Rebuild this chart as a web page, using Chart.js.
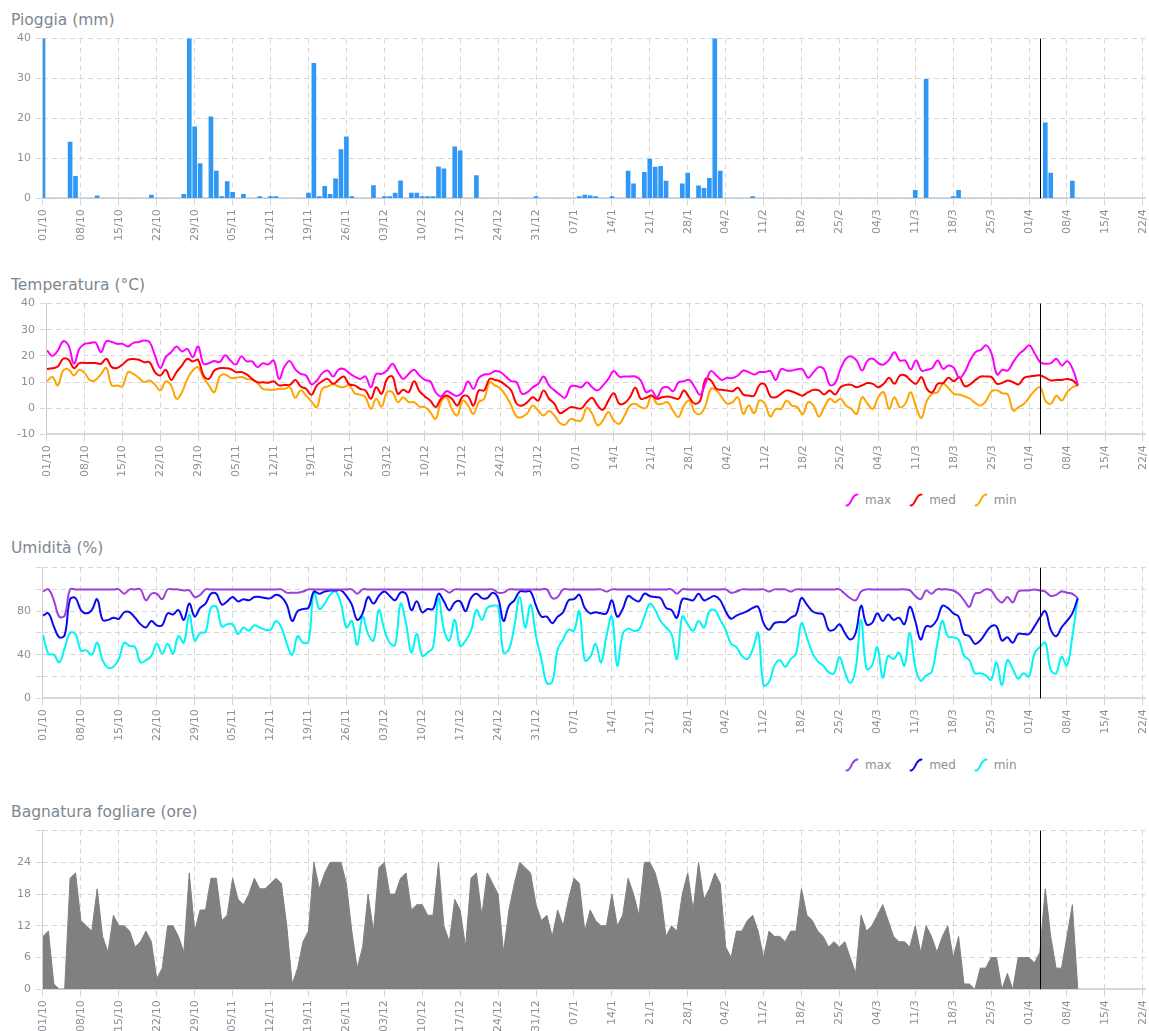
<!DOCTYPE html>
<html>
<head>
<meta charset="utf-8">
<script src="https://cdn.jsdelivr.net/npm/chart.js@4.4.1/dist/chart.umd.min.js"></script>
<style>
  body { margin: 0; width: 1149px; height: 1031px; overflow: hidden; background: #fff; position: relative; font-family: 'DejaVu Sans', Verdana, sans-serif; }
  .title { position: absolute; left: 11px; font-size: 15.5px; line-height: 18px; color: #7d8791; }
  .box { position: absolute; left: 0; width: 1160px; }
  .legend { position: absolute; left: 845px; height: 16px; display: flex; align-items: center; font-size: 12px; color: #8b9199; }
  .legend .item { display: flex; align-items: center; margin-right: 18px; }
  .legend svg { margin-right: 6px; }
</style>
</head>
<body>
<div class="title" style="top:11px">Pioggia (mm)</div>
<div class="box" style="top:27px;height:218px"><canvas id="chart-rain"></canvas></div>

<div class="title" style="top:276px">Temperatura (°C)</div>
<div class="box" style="top:292px;height:189px"><canvas id="chart-temp"></canvas></div>
<div class="legend" id="legend-temp" style="top:492px"></div>

<div class="title" style="top:539px">Umidità (%)</div>
<div class="box" style="top:556px;height:189px"><canvas id="chart-hum"></canvas></div>
<div class="legend" id="legend-hum" style="top:757px"></div>

<div class="title" style="top:803px">Bagnatura fogliare (ore)</div>
<div class="box" style="top:819px;height:217px"><canvas id="chart-leaf"></canvas></div>

<script>
// day 0 = 01/10, one value per day
const tickLabels = ['01/10','08/10','15/10','22/10','29/10','05/11','12/11','19/11','26/11','03/12','10/12','17/12','24/12','31/12','07/1','14/1','21/1','28/1','04/2','11/2','18/2','25/2','04/3','11/3','18/3','25/3','01/4','08/4','15/4','22/4'];
const seriesNames = ['max', 'med', 'min'];
const markerDay = 184;

const rain = [
  50,0,0,0,0,14.1,5.5,0,0,0,
  0.6,0,0,0,0,0,0,0,0,0,
  0.8,0,0,0,0,0,1.0,45,17.9,8.7,
  0,20.4,6.8,0.4,4.2,1.5,0,1.0,0,0,
  0.4,0,0.4,0.4,0,0,0,0,0,1.3,
  33.8,0.4,3.0,1.0,4.9,12.2,15.4,0.4,0,0,
  0,3.2,0,0.4,0.4,1.3,4.4,0,1.3,1.3,
  0.4,0.4,0.4,7.9,7.4,0,12.9,11.9,0,0,
  5.7,0,0,0,0,0,0,0,0,0,
  0,0.4,0,0,0,0,0,0,0,0.4,
  0.8,0.6,0.4,0,0,0.4,0,0,6.8,3.6,
  0,6.5,9.8,7.8,8.0,4.3,0,0,3.6,6.3,
  0,3.1,2.5,5.0,45,6.8,0,0,0,0,
  0,0.4,0,0,0,0,0,0,0,0,
  0,0,0,0,0,0,0,0,0,0,
  0,0,0,0,0,0,0,0,0,0,
  0,2.0,0,29.8,0,0,0,0,0.4,2.0,
  0,0,0,0,0,0,0,0,0,0,
  0,0,0,0,0,18.9,6.3,0,0,0,
  4.3,0
];

const tempMax = [
  22.1,20,22,25.6,24,17,22.7,24.6,24.9,25.1,
  21.4,25.6,25.3,24.6,24.6,23.6,25,25.3,25.9,25.3,
  20.2,15.4,19.5,21.4,23.6,21.7,22.7,19.5,23.6,17,
  17.2,18,17.6,20.2,18.2,16.7,19.8,17.9,17.9,15.7,
  17.2,16.7,18.2,11.2,15.9,18,14.8,13.1,12.5,9.1,
  10.6,13.4,14.4,12.1,14.7,15,13.4,12.1,11.2,12.1,
  8,13.1,13.1,14.4,17,13.8,11.2,13.1,14.7,12.5,
  10.8,10.3,6.1,4.5,6.5,5.5,4.7,6.1,10.2,7.4,
  11.6,12.9,13.1,14.2,13.8,12.1,10.3,9.9,5.5,6.1,
  8,9.3,12.1,8.7,6.8,5.2,4,8.3,8.5,8,
  9.9,8,6.8,8.7,11.2,14.2,12.1,12.1,12.1,12.1,
  10.6,6.1,6.8,4.2,7.7,8,6.5,9.9,10.3,10.8,
  8,5.1,9.6,14.2,12.5,10.8,11.6,11.5,12.5,14.4,
  13.8,12.9,13.8,13.8,14.2,10.8,15,14.4,14.4,14.9,
  14.8,11.6,13.8,15.7,14.7,8.9,9.6,15,18.9,19.8,
  18.2,14.4,18.2,18.9,17.2,16.7,18.5,21.4,18.2,18.2,
  14.8,18.2,14.4,14.7,15.4,18.2,15,16.3,15.4,11.6,
  13.8,18.2,21.4,22.3,24,20.8,12.9,14.7,14.4,17.6,
  20.5,22.3,24,20.8,17.6,17,17.2,18.9,16.3,18,
  15,8.7
];

const tempMed = [
  15,15.3,15.9,18.9,18.5,15.3,17.2,17.3,17.3,17.3,
  17,18.9,15.7,15.4,16.7,18.5,18.8,18.5,17.6,17.6,
  13.8,12.5,14.7,10.8,13.8,16.3,18.9,17.9,18.5,12.5,
  11.2,14.4,15.3,15.3,15,13.8,13.8,12.9,11.2,9.9,
  9.9,9.7,10.3,8.7,8.9,8.9,10.8,8.3,7.4,5.1,
  8.7,10.3,11.2,9.3,10.8,12.1,9.1,8.7,7.4,6.8,
  3.6,8,5.5,11.2,12.1,5.5,7,6.1,10.3,6.5,
  4.5,2.9,0.4,3.6,4.8,3.6,1,4.5,4.5,1,
  6.8,6.8,11.2,10.8,10.2,8.7,6.8,1.7,1,2.3,
  4.2,2.9,6.8,3.6,1.7,-1.9,-0.9,0.4,0.1,-0.1,
  2.3,4,1,-0.6,2.9,5.7,1.7,1.9,4.2,7.8,
  3.6,4,4.8,3.6,4.2,4.5,4,3.6,6.8,4,
  1.7,2.9,11.2,10.6,7.4,7,6.8,6.5,7.8,5.2,
  4.8,4.8,8.9,9.1,4.5,4.2,5.5,6.8,6.4,5.5,
  4.8,6.1,7,6.8,5.2,6.8,5.2,8,8.9,8.9,
  8,8.7,9.6,9.3,8,9.3,11.6,9.3,12.5,12.5,
  10.6,9.3,11.9,7.4,6.1,9.3,9.6,11.6,10.3,11.9,
  8.4,9.1,10.8,12.1,12.1,11.9,9.3,9.7,10.6,9.9,
  9.1,11.6,12.1,12.4,12.5,11.6,10.6,10.8,10.8,11.2,
  10.6,8.7
];

const tempMin = [
  10.3,11.9,8.7,14.4,14.8,12.5,14.7,13.4,10.6,10.8,
  13,15.4,8.7,8.7,8.4,13.8,13.1,11.6,10,10.6,
  9,6.8,10.2,8.7,3.6,6.1,11.2,14.4,15.7,11.6,
  8.7,6.1,12.1,12.9,11.6,11.6,11.9,11.2,10.8,9.6,
  7.4,7.1,7,7.4,7.4,8,4,6.8,4.8,2.6,
  0.4,7.4,8.3,9.1,8.3,8,8.9,5.7,5.2,4.2,
  -0.3,3.6,0.6,6.1,6.1,2.3,4.2,2.3,2.3,0.6,
  0.4,-1.5,-4.1,2.3,4.2,-0.3,-2.8,2.9,1,-2.2,
  2.3,3.6,9.9,8.7,7.4,4.8,1,-3.2,-3.4,-1.9,
  1,-0.9,-2.8,-1.1,-2.8,-5.7,-6.3,-4.1,-4.7,-4.7,
  0.1,-2.2,-6.6,-4.7,-1.5,-4.7,-6,-2.8,1,1.7,
  0.4,0.1,4.8,1.7,1.7,2.3,-1.1,-3.4,1,2.9,
  -1.5,-2.2,1,7.4,6.8,4.2,1.7,2.3,4.2,-2.2,
  1,-1.9,2.9,1.7,-3.2,-0.3,-0.3,2.9,1,0.4,
  -2.4,2.3,1,-3.2,0.4,3.6,2.3,3.6,1,-0.3,
  -2.2,4.2,1.7,-0.3,4.2,6.1,-0.3,4.2,0.4,1.7,
  6.1,0.4,-3.7,2.9,5.5,6.1,9.3,7.7,5.5,5.2,
  4.5,3.6,1.9,1,2.9,6.5,6.8,5.7,5.2,-0.9,
  0.4,1.7,4.2,6.8,8,2.7,1.7,4.8,2.9,6.1,
  8,8.7
];

const humMax = [
  98,100,90,75,76,100,100,100,100,100,
  100,100,100,100,100,96,100,100,100,90,
  96,96,91,100,100,100,99,99,93,95,
  100,100,100,100,100,100,100,100,100,100,
  100,100,100,100,100,97,97,97,98,100,
  100,100,100,100,100,100,100,100,96,100,
  100,100,100,100,100,100,100,100,100,100,
  100,100,100,100,100,97,100,100,100,100,
  100,100,100,100,97,97,100,100,100,100,
  100,100,100,100,92,93,100,100,100,100,
  100,100,100,100,98,100,100,100,100,100,
  100,100,100,100,100,100,100,96,100,100,
  100,100,100,100,100,100,100,97,98,100,
  100,100,100,100,98,100,100,100,98,100,
  100,100,100,100,100,100,100,100,96,92,
  90,98,100,100,100,100,100,100,100,100,
  99,94,91,99,96,100,100,100,99,96,
  90,84,96,97,100,99,92,88,93,88,
  98,99,99,100,99,98,94,95,98,97,
  96,92
];

const humMed = [
  76,78,66,56,58,91,92,81,78,81,
  91,72,72,74,73,79,79,74,68,65,
  71,67,67,78,77,81,72,87,75,83,
  87,96,96,86,89,93,89,91,90,93,
  93,92,92,95,93,86,71,80,82,83,
  98,96,98,99,99,99,94,86,72,78,
  93,87,94,98,94,90,97,96,81,89,
  79,82,82,96,89,81,88,89,80,92,
  96,92,92,97,92,71,85,90,98,98,
  98,85,75,75,69,75,79,90,91,95,
  83,78,79,78,78,90,75,82,94,91,
  89,96,94,93,92,83,81,74,91,91,
  90,96,90,92,94,90,80,73,76,78,
  80,83,84,69,63,69,70,70,74,77,
  92,86,80,78,77,63,63,68,60,54,
  60,85,68,69,78,71,77,72,74,68,
  84,71,54,66,66,72,85,83,78,75,
  59,57,50,53,60,66,66,53,56,51,
  59,59,59,66,74,80,63,57,65,71,
  78,92
];

const humMin = [
  58,41,40,33,46,60,59,44,44,40,
  51,35,28,29,36,51,48,47,33,35,
  39,50,41,50,41,57,51,77,53,60,
  61,83,84,66,68,68,59,65,62,67,
  65,63,63,71,65,50,40,57,51,52,
  98,82,87,95,98,87,65,71,49,75,
  59,53,81,63,51,49,87,69,42,59,
  39,42,47,92,63,53,72,48,53,62,
  81,72,83,85,84,42,45,66,93,65,
  86,57,36,14,15,45,54,63,62,80,
  35,38,50,33,57,75,30,59,64,62,
  63,75,87,81,71,65,59,36,75,68,
  62,71,65,80,81,72,63,50,47,39,
  36,45,60,12,15,30,35,29,36,41,
  69,56,42,34,30,24,23,38,24,14,
  27,72,27,30,47,19,39,36,42,30,
  60,29,16,21,24,48,71,57,56,54,
  39,35,23,23,21,17,33,12,35,27,
  18,23,20,41,47,51,26,23,38,30,
  57,92
];

const leafWet = [
  10,11,1,0,0,21,22,13,12,11,
  19,10,7,14,12,12,11,8,9,11,
  9,2,4,12,12,10,7,22,11,15,
  15,21,21,13,14,21,17,16,18,21,
  19,19,20,21,20,12,1,4,9,11,
  24,19,22,24,24,24,20,11,4,8,
  18,11,23,24,18,18,21,22,15,16,
  16,14,14,24,12,9,17,15,8,21,
  22,14,22,20,18,7,15,20,24,23,
  22,16,13,14,10,15,12,17,21,20,
  11,15,13,12,12,18,12,14,21,18,
  14,24,24,22,18,10,12,11,18,22,
  15,24,17,19,22,20,8,6,11,11,
  13,14,11,6,11,10,10,9,11,11,
  19,14,13,11,10,8,9,8,9,6,
  3,14,11,12,14,16,13,10,9,9,
  8,12,7,12,10,7,10,12,6,10,
  1,1,0,4,4,6,6,0,3,0,
  6,6,6,5,7,19,10,4,4,10,
  16,0
];

const gridColor = '#d6d6d6';
const tickColor = '#8b9199';
const xMax = 203.5;

Chart.defaults.font.family = "'DejaVu Sans', Verdana, sans-serif";
Chart.defaults.font.size = 11;
Chart.defaults.color = tickColor;

function toXY(arr) {
  return arr.map((v, i) => ({ x: i, y: v }));
}

// vertical black line on "today"
const markerLine = {
  id: 'markerLine',
  afterDatasetsDraw(chart) {
    const { ctx, chartArea, scales } = chart;
    const x = Math.round(scales.x.getPixelForValue(markerDay)) + 0.5;
    ctx.save();
    ctx.strokeStyle = '#000';
    ctx.lineWidth = 1;
    ctx.beginPath();
    ctx.moveTo(x, chartArea.top);
    ctx.lineTo(x, chartArea.bottom);
    ctx.stroke();
    ctx.restore();
  }
};

function makeOptions(yMin, yMax, yStep, yLabel) {
  return {
    responsive: true,
    maintainAspectRatio: false,
    animation: false,
    events: [],
    layout: { padding: { left: 12, right: 0, top: 0, bottom: 0 } },
    plugins: { legend: { display: false }, tooltip: { enabled: false }, title: { display: false } },
    scales: {
      x: {
        type: 'linear',
        min: 0,
        max: xMax,
        offset: false,
        grid: { offset: false, color: gridColor, tickLength: 7, tickColor: gridColor },
        border: { color: '#d9d9d9', width: 2, dash: [5, 4] },
        ticks: {
          stepSize: 7,
          includeBounds: false,
          maxTicksLimit: 40,
          autoSkip: false,
          minRotation: 90,
          maxRotation: 90,
          padding: 4,
          color: tickColor,
          callback: (v) => tickLabels[Math.round(v / 7)] ?? ''
        }
      },
      y: {
        min: yMin,
        max: yMax,
        grid: { color: gridColor, tickLength: 7, tickColor: gridColor, tickBorderDash: [5, 4] },
        border: { color: '#cccccc', width: 1, dash: [5, 4] },
        ticks: {
          stepSize: yStep,
          padding: 5,
          color: tickColor,
          callback: yLabel
        }
      }
    }
  };
}

function lineSet(label, data, color) {
  return {
    label: label,
    data: toXY(data),
    borderColor: color,
    backgroundColor: color,
    borderWidth: 2,
    pointRadius: 0,
    tension: 0.4,
    fill: false
  };
}

function buildLegend(id, colors) {
  const el = document.getElementById(id);
  el.innerHTML = seriesNames.map((name, i) =>
    '<div class="item"><svg width="14" height="14"><path d="M1.5 12.5 C 7 12.5, 6 1.5, 12.5 1.5" stroke="' + colors[i] +
    '" stroke-width="2" fill="none" stroke-linecap="round"/></svg><span>' + name + '</span></div>'
  ).join('');
}

// Pioggia
new Chart(document.getElementById('chart-rain'), {
  type: 'bar',
  data: {
    datasets: [{
      label: 'Pioggia',
      data: toXY(rain),
      backgroundColor: '#2f98f7',
      barThickness: 4,
      clip: 0
    }]
  },
  options: makeOptions(0, 40, 10, (v) => v),
  plugins: [markerLine]
});

// Temperatura
const tempColors = ['#ff00ff', '#ff0000', '#ffa500'];
new Chart(document.getElementById('chart-temp'), {
  type: 'line',
  data: {
    datasets: [
      lineSet('max', tempMax, tempColors[0]),
      lineSet('med', tempMed, tempColors[1]),
      lineSet('min', tempMin, tempColors[2])
    ]
  },
  options: makeOptions(-10, 40, 10, (v) => v),
  plugins: [markerLine]
});
buildLegend('legend-temp', tempColors);

// Umidita
const humColors = ['#9b40dd', '#0a0af0', '#00f5f5'];
new Chart(document.getElementById('chart-hum'), {
  type: 'line',
  data: {
    datasets: [
      lineSet('max', humMax, humColors[0]),
      lineSet('med', humMed, humColors[1]),
      lineSet('min', humMin, humColors[2])
    ]
  },
  options: makeOptions(0, 120, 20, (v) => (v % 40 === 0 && v < 120 ? v : '')),
  plugins: [markerLine]
});
buildLegend('legend-hum', humColors);

// Bagnatura fogliare
new Chart(document.getElementById('chart-leaf'), {
  type: 'line',
  data: {
    datasets: [{
      label: 'Bagnatura',
      data: toXY(leafWet),
      borderColor: '#808080',
      backgroundColor: '#808080',
      borderWidth: 1,
      pointRadius: 0,
      tension: 0,
      fill: 'origin'
    }]
  },
  options: makeOptions(0, 30, 6, (v) => (v < 30 ? v : '')),
  plugins: [markerLine]
});
</script>
</body>
</html>
